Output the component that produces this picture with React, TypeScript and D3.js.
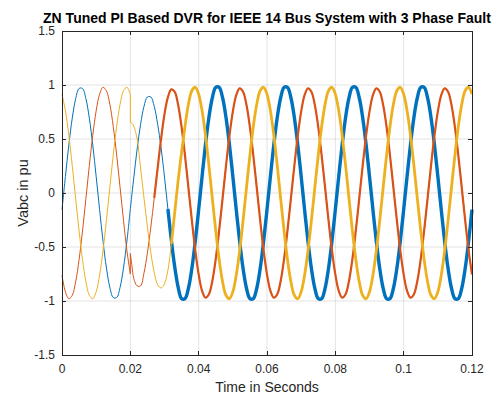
import * as d3 from "d3";

/* ------------------------------------------------------------------ */
/*  Data (one sample per millisecond, 0 .. 120 ms, values in pu)      */
/* ------------------------------------------------------------------ */

const sampleMs = 1;
const faultIndex = 20; // fault applied at t = 20 ms

// phase a (blue)
const phaseA = [
  -0.153, 0.153, 0.445, 0.693, 0.873, 0.968, 0.968, 0.873, 0.693, 0.445,
  0.153, -0.153, -0.445, -0.693, -0.873, -0.968, -0.968, -0.873, -0.693, -0.445,
  -0.148, 0.14, 0.409, 0.636, 0.802, 0.889, 0.889, 0.802, 0.636, 0.418,
  0.147, -0.148, -0.436, -0.686, -0.873, -0.978, -0.978, -0.882, -0.7, -0.449,
  -0.154, 0.154, 0.449, 0.7, 0.882, 0.978, 0.978, 0.882, 0.7, 0.449,
  0.154, -0.154, -0.449, -0.7, -0.882, -0.978, -0.978, -0.882, -0.7, -0.449,
  -0.154, 0.154, 0.449, 0.7, 0.882, 0.978, 0.978, 0.882, 0.7, 0.449,
  0.154, -0.154, -0.449, -0.7, -0.882, -0.978, -0.978, -0.882, -0.7, -0.449,
  -0.154, 0.154, 0.449, 0.7, 0.882, 0.978, 0.978, 0.882, 0.7, 0.449,
  0.154, -0.154, -0.449, -0.7, -0.882, -0.978, -0.978, -0.882, -0.7, -0.449,
  -0.154, 0.154, 0.449, 0.7, 0.882, 0.978, 0.978, 0.882, 0.7, 0.449,
  0.154, -0.154, -0.449, -0.7, -0.882, -0.978, -0.978, -0.882, -0.7, -0.449,
  -0.154,
];

// phase b (orange)
const phaseB = [
  -0.761, -0.915, -0.979, -0.947, -0.822, -0.616, -0.351, -0.051, 0.254, 0.534,
  0.761, 0.915, 0.979, 0.947, 0.822, 0.616, 0.351, 0.051, -0.254, -0.534,
  -0.75, -0.79, -0.86, -0.86, -0.74, -0.554, -0.315, -0.046, 0.233, 0.501,
  0.73, 0.887, 0.959, 0.937, 0.814, 0.61, 0.347, 0.05, -0.251, -0.529,
  -0.754, -0.906, -0.969, -0.937, -0.814, -0.61, -0.347, -0.05, 0.251, 0.529,
  0.754, 0.906, 0.969, 0.937, 0.814, 0.61, 0.347, 0.05, -0.251, -0.529,
  -0.754, -0.906, -0.969, -0.937, -0.814, -0.61, -0.347, -0.05, 0.251, 0.529,
  0.754, 0.906, 0.969, 0.937, 0.814, 0.61, 0.347, 0.05, -0.251, -0.529,
  -0.754, -0.906, -0.969, -0.937, -0.814, -0.61, -0.347, -0.05, 0.251, 0.529,
  0.754, 0.906, 0.969, 0.937, 0.814, 0.61, 0.347, 0.05, -0.251, -0.529,
  -0.754, -0.906, -0.969, -0.937, -0.814, -0.61, -0.347, -0.05, 0.251, 0.529,
  0.754, 0.906, 0.969, 0.937, 0.814, 0.61, 0.347, 0.05, -0.251, -0.529,
  -0.754,
];

// phase c (yellow)
const phaseC = [
  0.915, 0.761, 0.534, 0.254, -0.051, -0.351, -0.616, -0.822, -0.947, -0.979,
  -0.915, -0.761, -0.534, -0.254, 0.051, 0.351, 0.616, 0.822, 0.947, 0.979,
  0.915, 0.62, 0.5, 0.23, -0.046, -0.315, -0.554, -0.738, -0.85, -0.879,
  -0.841, -0.715, -0.47, -0.18, 0.12, 0.38, 0.616, 0.822, 0.947, 0.979,
  0.915, 0.761, 0.534, 0.254, -0.051, -0.351, -0.616, -0.822, -0.947, -0.979,
  -0.915, -0.761, -0.534, -0.254, 0.051, 0.351, 0.616, 0.822, 0.947, 0.979,
  0.915, 0.761, 0.534, 0.254, -0.051, -0.351, -0.616, -0.822, -0.947, -0.979,
  -0.915, -0.761, -0.534, -0.254, 0.051, 0.351, 0.616, 0.822, 0.947, 0.979,
  0.915, 0.761, 0.534, 0.254, -0.051, -0.351, -0.616, -0.822, -0.947, -0.979,
  -0.915, -0.761, -0.534, -0.254, 0.051, 0.351, 0.616, 0.822, 0.947, 0.979,
  0.915, 0.761, 0.534, 0.254, -0.051, -0.351, -0.616, -0.822, -0.947, -0.979,
  -0.915, -0.761, -0.534, -0.254, 0.051, 0.351, 0.616, 0.822, 0.947, 0.979,
  0.915,
];

// values right after the fault step (t in ms)
const jumpTimeMs = [20, 20.5];
const phaseAJump: number[] = [];
const phaseBJump = [-0.56, -0.68];
const phaseCJump = [0.65, 0.645];

// ripple (thick trace) starts once the DVR is injecting, ms
const rippleFromMs = [31, 27, 32];

const xTicks = [0, 0.02, 0.04, 0.06, 0.08, 0.1, 0.12];
const xTickLabels = ["0", "0.02", "0.04", "0.06", "0.08", "0.1", "0.12"];
const yTicks = [-1.5, -1, -0.5, 0, 0.5, 1, 1.5];
const yTickLabels = ["-1.5", "-1", "-0.5", "0", "0.5", "1", "1.5"];

/* ------------------------------------------------------------------ */

type Pt = [number, number];

const W = 501;
const H = 394;
const plot = { left: 62, right: 472, top: 31, bottom: 355 };
const axisColor = "#262626";
const font = "'Liberation Sans', Arial, Helvetica, sans-serif";

const x = d3.scaleLinear().domain([0, 0.12]).range([plot.left, plot.right]);
const y = d3.scaleLinear().domain([-1.5, 1.5]).range([plot.bottom, plot.top]);

const curve = d3
  .line<Pt>()
  .x((d) => x(d[0]))
  .y((d) => y(d[1]))
  .curve(d3.curveCatmullRom.alpha(0.5));
const straight = d3
  .line<Pt>()
  .x((d) => x(d[0]))
  .y((d) => y(d[1]));

const series = [
  { values: phaseA, jump: phaseAJump, ripple: rippleFromMs[0], color: "#0072BD", thick: 3.4 },
  { values: phaseB, jump: phaseBJump, ripple: rippleFromMs[1], color: "#D95319", thick: 2.2 },
  { values: phaseC, jump: phaseCJump, ripple: rippleFromMs[2], color: "#EDB120", thick: 2.8 },
];

function buildParts(values: number[], jump: number[], rippleMs: number) {
  const toPt = (v: number, i: number): Pt => [(i * sampleMs) / 1000, v];
  const pre = values.slice(0, faultIndex + 1).map((v, i) => toPt(v, i));
  const head: Pt[] = jump.length
    ? jump.map((v, j) => [jumpTimeMs[j] / 1000, v] as Pt)
    : [toPt(values[faultIndex], faultIndex)];
  const post = head.concat(
    values.slice(faultIndex + 1).map((v, i) => toPt(v, faultIndex + 1 + i))
  );
  const step: Pt[] = jump.length ? [pre[pre.length - 1], head[0]] : [];
  const thick = post.filter((p) => p[0] >= rippleMs / 1000 - 1e-9);
  return { pre, post, step, thick };
}

export default function App() {
  const tickLen = 4;

  return (
    <svg
      width={W}
      height={H}
      viewBox={`0 0 ${W} ${H}`}
      style={{ position: "absolute", left: 0, top: 0, background: "#fff" }}
      fontFamily={font}
    >
      <rect x={0} y={0} width={W} height={H} fill="#fff" />

      {/* grid */}
      <g stroke={axisColor} strokeOpacity={0.13} strokeWidth={1}>
        {xTicks.slice(1, -1).map((t) => (
          <line key={`gx${t}`} x1={x(t)} x2={x(t)} y1={plot.top} y2={plot.bottom} />
        ))}
        {yTicks.slice(1, -1).map((t) => (
          <line key={`gy${t}`} x1={plot.left} x2={plot.right} y1={y(t)} y2={y(t)} />
        ))}
      </g>

      {/* traces */}
      <g fill="none" strokeLinejoin="round">
        {series.map((s, i) => {
          const p = buildParts(s.values, s.jump, s.ripple);
          return (
            <g key={i} stroke={s.color}>
              <path d={curve(p.pre) ?? ""} strokeWidth={1} />
              {p.step.length > 0 && <path d={straight(p.step) ?? ""} strokeWidth={1} />}
              <path d={curve(p.post) ?? ""} strokeWidth={1} />
              <path d={curve(p.thick) ?? ""} strokeWidth={s.thick} />
            </g>
          );
        })}
      </g>

      {/* box + ticks */}
      <g stroke={axisColor} strokeWidth={1} fill="none" shapeRendering="crispEdges">
        <rect
          x={plot.left}
          y={plot.top}
          width={plot.right - plot.left}
          height={plot.bottom - plot.top}
        />
        {xTicks.map((t) => (
          <g key={`tx${t}`}>
            <line x1={x(t)} x2={x(t)} y1={plot.bottom} y2={plot.bottom - tickLen} />
            <line x1={x(t)} x2={x(t)} y1={plot.top} y2={plot.top + tickLen} />
          </g>
        ))}
        {yTicks.map((t) => (
          <g key={`ty${t}`}>
            <line x1={plot.left} x2={plot.left + tickLen} y1={y(t)} y2={y(t)} />
            <line x1={plot.right} x2={plot.right - tickLen} y1={y(t)} y2={y(t)} />
          </g>
        ))}
      </g>

      {/* tick labels */}
      <g fill={axisColor} fontSize={12}>
        {xTicks.map((t, i) => (
          <text key={`lx${t}`} x={x(t)} y={373} textAnchor="middle">
            {xTickLabels[i]}
          </text>
        ))}
        {yTicks.map((t, i) => (
          <text
            key={`ly${t}`}
            x={plot.left - 7}
            y={y(t)}
            textAnchor="end"
            dominantBaseline="central"
          >
            {yTickLabels[i]}
          </text>
        ))}
      </g>

      {/* labels */}
      <text
        x={(plot.left + plot.right) / 2}
        y={392}
        textAnchor="middle"
        fontSize={14}
        fill={axisColor}
      >
        Time in Seconds
      </text>
      <text
        transform={`translate(28,${(plot.top + plot.bottom) / 2}) rotate(-90)`}
        textAnchor="middle"
        fontSize={14.5}
        fill={axisColor}
      >
        Vabc in pu
      </text>
      <text
        x={(plot.left + plot.right) / 2}
        y={23}
        textAnchor="middle"
        fontSize={14}
        fontWeight="bold"
        fill="#000"
      >
        ZN Tuned PI Based DVR for IEEE 14 Bus System with 3 Phase Fault
      </text>
    </svg>
  );
}
